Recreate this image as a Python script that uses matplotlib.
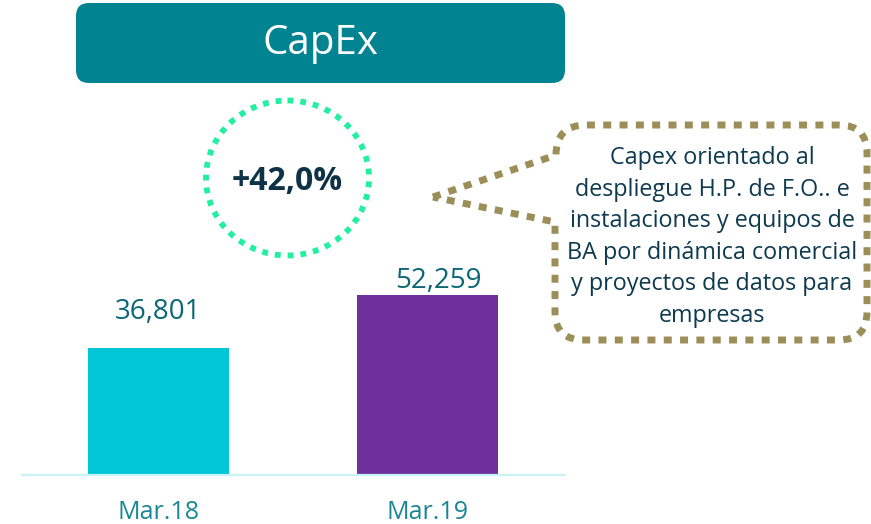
import numpy as np
import matplotlib.pyplot as plt
from matplotlib.patches import FancyBboxPatch, Ellipse, PathPatch
from matplotlib.path import Path

plt.rcParams['font.family'] = ['Open Sans', 'DejaVu Sans']

# data
categories = ['Mar.18', 'Mar.19']
capex = [36801, 52259]
title = 'CapEx'
note_lines = ['Capex orientado al',
              'despliegue H.P. de F.O.. e',
              'instalaciones y equipos de',
              'BA por dinámica comercial',
              'y proyectos de datos para',
              'empresas']

bar_colors = ['#00C6D7', '#70309B']
growth = (capex[1] / capex[0] - 1) * 100
growth_txt = ('+%.1f%%' % growth).replace('.', ',')

W, H = 871, 524
fig = plt.figure(figsize=(W / 100, H / 100), dpi=100)

# bar axes in pixel layout
x0, x1, ytop, ybase = 22, 565, 90, 475
ax = fig.add_axes([x0 / W, (H - ybase) / H, (x1 - x0) / W, (ybase - ytop) / H])
xpos = np.arange(len(categories))
ax.bar(xpos, capex, width=0.524, color=bar_colors)
ax.set_xlim(-0.507, 1.511)
ax.set_ylim(0, (ybase - ytop) / 0.003451)
for s in ['top', 'left', 'right']:
    ax.spines[s].set_visible(False)
ax.spines['bottom'].set_color('#C9F3F8')
ax.spines['bottom'].set_linewidth(1.6)
ax.set_yticks([])
ax.set_xticks(xpos)
ax.set_xticklabels(categories, fontsize=18, color='#1A8797')
ax.tick_params(axis='x', length=0, pad=18)

# value labels (offsets in px, manual like the source)
label_dx = [0, 0.04]
label_dy = [22, 0]
for i, v in enumerate(capex):
    ax.annotate(f'{v:,}', (xpos[i] + label_dx[i], v), xytext=(0, label_dy[i] * 0.72),
                textcoords='offset points', ha='center', va='bottom',
                fontsize=20, color='#0B6776')

# overlay in pixel coords
ov = fig.add_axes([0, 0, 1, 1])
ov.set_xlim(0, W)
ov.set_ylim(H, 0)
ov.axis('off')

# title box
box = FancyBboxPatch((76 + 13, 3 + 13), 489 - 26, 80 - 26,
                     boxstyle='round,pad=13', fc='#028391', ec='none')
ov.add_patch(box)
ov.text(320, 44, title, ha='center', va='center', fontsize=29, color='white')

# growth circle
circ = Ellipse((287.5, 178), 163, 155, fill=False, ec='#22F0A0', lw=4.2,
               linestyle=(0, (1.0, 1.2)))
circ.set_capstyle('butt')
ov.add_patch(circ)
ov.text(287.5, 181, growth_txt, ha='center', va='center', fontsize=23,
        fontweight='bold', color='#0E3347')

# callout with tail
verts = [(433, 197), (556, 155),
         (556, 125), (586, 125),
         (839, 125),
         (867, 125), (867, 153),
         (867, 312),
         (867, 340), (839, 340),
         (584, 340),
         (555, 340), (555, 312),
         (555, 222),
         (433, 197)]
codes = [Path.MOVETO, Path.LINETO,
         Path.CURVE3, Path.CURVE3,
         Path.LINETO,
         Path.CURVE3, Path.CURVE3,
         Path.LINETO,
         Path.CURVE3, Path.CURVE3,
         Path.LINETO,
         Path.CURVE3, Path.CURVE3,
         Path.LINETO,
         Path.LINETO]
call = PathPatch(Path(verts, codes), fill=False, ec='#9C8E58', lw=5.0,
                 linestyle=(0, (1.15, 1.2)))
call.set_capstyle('butt')
ov.add_patch(call)

for i, line in enumerate(note_lines):
    ov.text(712, 158 + i * 31.6, line, ha='center', va='center',
            fontsize=16.8, color='#0E3A4F')

fig.savefig('out.png', dpi=100)
